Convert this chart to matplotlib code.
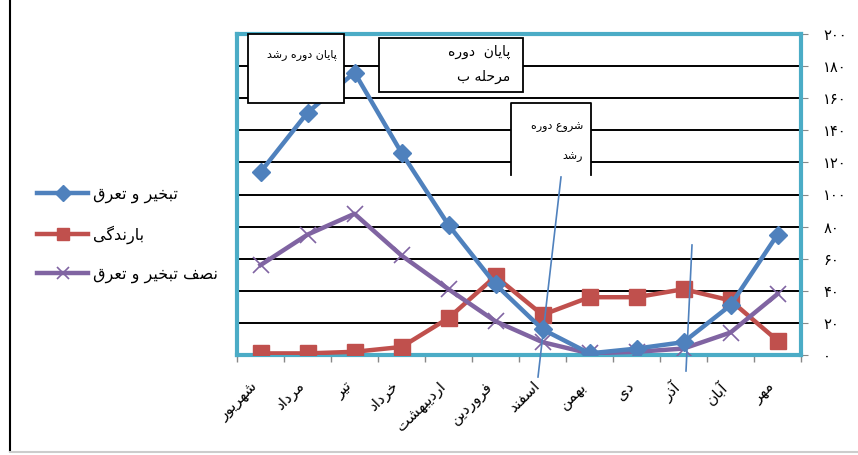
import matplotlib
matplotlib.use("Agg")
import matplotlib.pyplot as plt
from matplotlib.patches import Rectangle
from matplotlib.lines import Line2D

# ---------------- data ----------------
months = ["شهریور", "مرداد", "تیر", "خرداد", "اردیبهشت", "فروردین",
          "اسفند", "بهمن", "دی", "آذر", "آبان", "مهر"]
evap = [114, 151, 176, 126, 81, 44, 16, 1, 4, 8, 31, 75]
rain = [1, 1, 2, 5, 23, 49, 25, 36, 36, 41, 34, 9]
half_evap = [56, 75, 88, 62, 41, 21, 8, 1, 2, 4, 14, 38]
series_names = ["تبخیر و تعرق", "بارندگی", "نصف تبخیر و تعرق"]
y_ticks = [0, 20, 40, 60, 80, 100, 120, 140, 160, 180, 200]
box1_text = "پایان دوره رشد"
box2_lines = ["پایان  دوره", "مرحله ب"]
box3_lines = ["شروع دوره", "رشد"]

# ---------------- simple Arabic/Persian shaping ----------------
FORMS = {
    '\u0627': ('\uFE8D', '\uFE8E', None, None),
    '\u0622': ('\uFE81', '\uFE82', None, None),
    '\u0628': ('\uFE8F', '\uFE90', '\uFE91', '\uFE92'),
    '\u067E': ('\uFB56', '\uFB57', '\uFB58', '\uFB59'),
    '\u062A': ('\uFE95', '\uFE96', '\uFE97', '\uFE98'),
    '\u062E': ('\uFEA5', '\uFEA6', '\uFEA7', '\uFEA8'),
    '\u062D': ('\uFEA1', '\uFEA2', '\uFEA3', '\uFEA4'),
    '\u062F': ('\uFEA9', '\uFEAA', None, None),
    '\u0630': ('\uFEAB', '\uFEAC', None, None),
    '\u0631': ('\uFEAD', '\uFEAE', None, None),
    '\u0632': ('\uFEAF', '\uFEB0', None, None),
    '\u0633': ('\uFEB1', '\uFEB2', '\uFEB3', '\uFEB4'),
    '\u0634': ('\uFEB5', '\uFEB6', '\uFEB7', '\uFEB8'),
    '\u0635': ('\uFEB9', '\uFEBA', '\uFEBB', '\uFEBC'),
    '\u0639': ('\uFEC9', '\uFECA', '\uFECB', '\uFECC'),
    '\u0641': ('\uFED1', '\uFED2', '\uFED3', '\uFED4'),
    '\u0642': ('\uFED5', '\uFED6', '\uFED7', '\uFED8'),
    '\u06A9': ('\uFB8E', '\uFB8F', '\uFB90', '\uFB91'),
    '\u06AF': ('\uFB92', '\uFB93', '\uFB94', '\uFB95'),
    '\u0644': ('\uFEDD', '\uFEDE', '\uFEDF', '\uFEE0'),
    '\u0645': ('\uFEE1', '\uFEE2', '\uFEE3', '\uFEE4'),
    '\u0646': ('\uFEE5', '\uFEE6', '\uFEE7', '\uFEE8'),
    '\u0647': ('\uFEE9', '\uFEEA', '\uFEEB', '\uFEEC'),
    '\u0648': ('\uFEED', '\uFEEE', None, None),
    '\u06CC': ('\uFBFC', '\uFBFD', '\uFBFE', '\uFBFF'),
}


def dual(c):
    return c in FORMS and FORMS[c][2] is not None


def shape(s):
    out = []
    for i, c in enumerate(s):
        if c not in FORMS:
            out.append(c)
            continue
        prev = s[i - 1] if i > 0 else ''
        nxt = s[i + 1] if i + 1 < len(s) else ''
        jp = dual(prev)
        jn = dual(c) and nxt in FORMS
        f = FORMS[c]
        if jp and jn:
            out.append(f[3])
        elif jp:
            out.append(f[1])
        elif jn:
            out.append(f[2])
        else:
            out.append(f[0])
    return ''.join(out)[::-1]


def fa_digits(n):
    return str(n).translate(str.maketrans("0123456789", "۰۱۲۳۴۵۶۷۸۹"))


plt.rcParams['font.family'] = ['DejaVu Sans']

W, H = 858, 455
fig = plt.figure(figsize=(W / 100, H / 100), dpi=100)


def fx(px):
    return px / W


def fy(py):
    return 1 - py / H


ax = fig.add_axes([fx(237), fy(355), fx(801) - fx(237), fy(34) - fy(355)])

x = list(range(len(months)))
blue, red, purple = "#4F81BD", "#C0504D", "#8064A2"
ax.plot(x, evap, color=blue, lw=3.2, marker='D', ms=9, zorder=4,
        label=shape(series_names[0]))
ax.plot(x, rain, color=red, lw=3.2, marker='s', ms=11, zorder=3,
        label=shape(series_names[1]))
ax.plot(x, half_evap, color=purple, lw=3.2, marker='x', ms=11, mew=1.2,
        zorder=3.5, label=shape(series_names[2]))

ax.set_xlim(-0.5, len(months) - 0.5)
ax.set_ylim(0, 200)
ax.set_yticks(y_ticks)
ax.yaxis.tick_right()
ax.set_yticklabels([fa_digits(v) for v in y_ticks], fontsize=10.5, ha='left')
ax.tick_params(axis='y', which='major', length=5, color='#888888', pad=11)
for v in y_ticks[1:-1]:
    ax.axhline(v, color='black', lw=1.4, zorder=1)

ax.set_xticks(x)
ax.set_xticklabels([shape(m) for m in months], rotation=45, ha='right',
                   va='top', fontsize=11)
ax.tick_params(axis='x', which='major', length=0, pad=17)
ax.set_xticks([i - 0.5 for i in range(len(months) + 1)], minor=True)
ax.tick_params(axis='x', which='minor', length=5, color='#888888', width=1)

for sp in ax.spines.values():
    sp.set_color('#4BACC6')
    sp.set_linewidth(3)

# legend
leg = fig.legend(loc='upper left', bbox_to_anchor=(fx(37), fy(187)),
                 frameon=False, fontsize=11.5, handlelength=3.2,
                 handletextpad=0.3, labelspacing=1.4, borderpad=0,
                 borderaxespad=0, markerscale=0.85)

# annotation boxes (figure pixel coordinates)
def box(x0, y0, x1, y1, closed=True):
    r = Rectangle((fx(x0), fy(y1)), fx(x1) - fx(x0), fy(y0) - fy(y1),
                  transform=fig.transFigure, facecolor='white',
                  edgecolor='black' if closed else 'none', lw=1.3, zorder=10)
    fig.add_artist(r)
    if not closed:
        fig.add_artist(Line2D([fx(x0), fx(x0), fx(x1), fx(x1)],
                              [fy(y1), fy(y0), fy(y0), fy(y1)],
                              transform=fig.transFigure, color='black',
                              lw=1.3, zorder=11))


box(248, 34, 344, 103)
fig.text(fx(337), fy(55), shape(box1_text), ha='right', va='center',
         fontsize=8, zorder=12)
box(379, 38, 523, 92)
fig.text(fx(510), fy(52), shape(box2_lines[0]), ha='right', va='center',
         fontsize=10, zorder=12)
fig.text(fx(510), fy(77), shape(box2_lines[1]), ha='right', va='center',
         fontsize=10, zorder=12)
box(511, 103, 591, 175, closed=False)
fig.text(fx(583), fy(127), shape(box3_lines[0]), ha='right', va='center',
         fontsize=8, zorder=12)
fig.text(fx(583), fy(157), shape(box3_lines[1]), ha='right', va='center',
         fontsize=8, zorder=12)

# thin pointer lines
fig.add_artist(Line2D([fx(538), fx(561)], [fy(377), fy(177)],
                      transform=fig.transFigure, color=blue, lw=1.2, zorder=9))
fig.add_artist(Line2D([fx(686), fx(692)], [fy(371), fy(245)],
                      transform=fig.transFigure, color=blue, lw=1.2, zorder=9))

# outer chart-area edges
fig.add_artist(Line2D([fx(10), fx(10)], [fy(0), fy(451)],
                      transform=fig.transFigure, color='black', lw=1.5))
fig.add_artist(Line2D([fx(10), fx(858)], [fy(452), fy(452)],
                      transform=fig.transFigure, color='#cccccc', lw=1.5))

fig.savefig("out.png", dpi=100, facecolor='white')
